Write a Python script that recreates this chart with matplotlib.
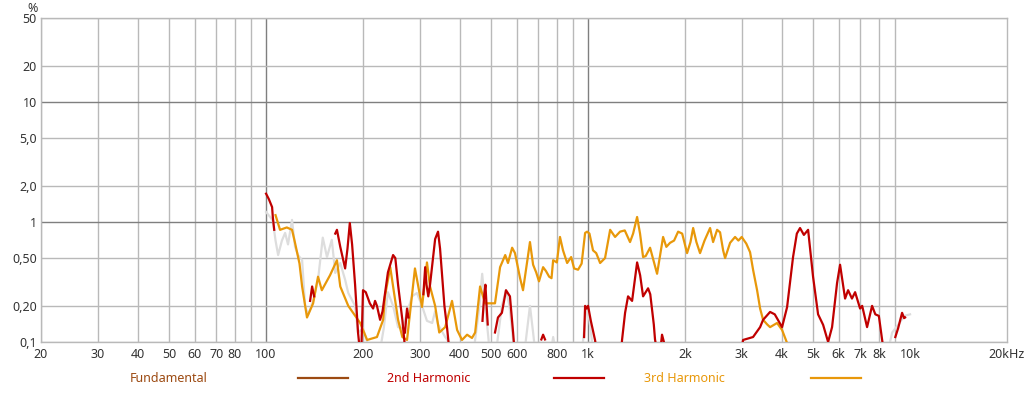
import numpy as np
import matplotlib.pyplot as plt
from matplotlib.lines import Line2D

nan = np.nan

# 3rd harmonic (%)
h3_f = [107, 110.5, 116, 120.4, 123, 127, 129.4, 134, 140, 145, 149, 158, 166, 170, 180, 196, 206, 221,
        231, 234, 243, 257, 265, 274, 290, 297, 305, 316, 323, 335, 345, 360, 378, 392, 406, 421, 436,
        446, 462, 479, 496, 514, 533, 553, 564, 581, 593, 615, 628, 646, 660, 675, 690, 704, 725, 740,
        757, 770, 779, 800, 818, 836, 861, 886, 905, 931, 955, 979, 993, 1010, 1036, 1060, 1090, 1129,
        1171, 1213, 1257, 1300, 1350, 1380, 1420, 1450, 1482, 1510, 1558, 1638, 1710, 1750, 1797, 1850,
        1904, 1960, 2030, 2080, 2120, 2170, 2227, 2300, 2393, 2445, 2516, 2570, 2627, 2664, 2761, 2861,
        2930, 3000, 3100, 3185, 3254, 3349, 3422, 3496, 3600, 3675, 3864, 4004, 4150, 4300]
h3_v = [1.14, 0.86, 0.9, 0.86, 0.67, 0.45, 0.29, 0.16, 0.21, 0.35, 0.27, 0.36, 0.48, 0.29, 0.2, 0.144,
        0.104, 0.11, 0.153, 0.24, 0.42, 0.153, 0.11, 0.104, 0.41, 0.29, 0.196, 0.46, 0.29, 0.2, 0.12,
        0.133, 0.22, 0.126, 0.104, 0.115, 0.108, 0.12, 0.29, 0.21, 0.21, 0.21, 0.42, 0.53, 0.455, 0.61,
        0.55, 0.34, 0.27, 0.455, 0.68, 0.44, 0.38, 0.32, 0.42, 0.39, 0.35, 0.34, 0.48, 0.46, 0.75, 0.58,
        0.455, 0.51, 0.41, 0.40, 0.45, 0.81, 0.83, 0.8, 0.58, 0.55, 0.455, 0.50, 0.86, 0.75, 0.83, 0.85,
        0.68, 0.8, 1.1, 0.8, 0.51, 0.52, 0.61, 0.37, 0.75, 0.62, 0.67, 0.7, 0.83, 0.8, 0.55, 0.68, 0.89,
        0.68, 0.55, 0.7, 0.89, 0.68, 0.86, 0.82, 0.58, 0.5, 0.67, 0.75, 0.7, 0.75, 0.66, 0.56, 0.40, 0.27,
        0.19, 0.153, 0.14, 0.133, 0.144, 0.126, 0.098, 0.07]

# 2nd harmonic (%), nan = gap
h2_f = [100, 102, 104.4, 105, 106, nan,
        137, 139, 141, nan,
        164, 166, 170, 176, 179, 182, 185, 189, 193, 196, nan,
        198, 200, 204, 210, 215, 218, 221, 226, 230, 239, 248, 252, 257, 265, 269, nan,
        270, 274, 277, nan,
        308, 312, 315, 319, 323, 335, 342, 347, 352, 358, 365, 370, nan,
        470, 476, 480, 484, 488, nan,
        514, 525, 540, 556, 572, 585, 590, nan,
        716, 725, 735, nan,
        972, 979, 990, 1000, 1020, 1051, 1060, nan,
        1270, 1275, 1303, 1331, 1370, 1420, 1451, 1482, 1536, 1560, 1600, 1614, 1630, nan,
        1680, 1697, 1720, 1740, nan,
        3000, 3030, 3254, 3422, 3496, 3675, 3800, 4004, 4150, 4331, 4450, 4553, 4680, 4823, 4997, 5180,
        5370, 5565, 5725, 5933, 6062, 6283, 6420, 6600, 6750, 6995, 7100, 7353, 7621, 7800, 8000, 8185,
        8250, nan,
        9000, 9180, 9445, 9580, 9650]
h2_v = [1.72, 1.55, 1.33, 1.08, 0.86, nan,
        0.22, 0.29, 0.24, nan,
        0.8, 0.86, 0.62, 0.41, 0.6, 0.98, 0.65, 0.3, 0.12, 0.08, nan,
        0.1, 0.27, 0.26, 0.21, 0.19, 0.22, 0.2, 0.153, 0.18, 0.38, 0.53, 0.5, 0.3, 0.153, 0.1, nan,
        0.12, 0.19, 0.16, nan,
        0.25, 0.42, 0.3, 0.24, 0.3, 0.72, 0.83, 0.6, 0.36, 0.2, 0.13, 0.09, nan,
        0.15, 0.25, 0.3, 0.2, 0.14, nan,
        0.12, 0.16, 0.175, 0.27, 0.24, 0.12, 0.09, nan,
        0.105, 0.115, 0.105, nan,
        0.11, 0.2, 0.19, 0.2, 0.15, 0.104, 0.09, nan,
        0.09, 0.104, 0.175, 0.24, 0.22, 0.46, 0.36, 0.24, 0.28, 0.25, 0.14, 0.105, 0.09, nan,
        0.09, 0.115, 0.1, 0.09, nan,
        0.09, 0.104, 0.11, 0.133, 0.153, 0.178, 0.17, 0.133, 0.195, 0.51, 0.8, 0.89, 0.78, 0.86, 0.35,
        0.17, 0.139, 0.1, 0.133, 0.31, 0.44, 0.23, 0.27, 0.23, 0.26, 0.19, 0.2, 0.133, 0.2, 0.17, 0.165,
        0.104, 0.09, nan,
        0.11, 0.13, 0.175, 0.158, 0.16]

# grey trace (%)
gr_f = [100, 103, 105, 107, 109, 112, 114.6, 117, 120.4, 123, 125.7, 129.4, 132.2, 135, 140, 145, 150,
        154.6, 160, 164, 170, 176, 180, 189, 193, 200, 206, 215, 225, 232, 239, 248, 257, 265, 284, 294,
        305, 316, 328, 335, 342, 360, 380, 420, 445, 460, 469, 479, 490, 500, 520, 540, 556, 570, 585,
        600, 640, 660, 675, 690, 760, 779, 790, 960, 990, 1010, 1040, 8500, 8800, 9200, 9600, 10000]
gr_v = [1.21, 1.1, 1.02, 0.7, 0.53, 0.7, 0.81, 0.65, 1.04, 0.62, 0.53, 0.48, 0.2, 0.168, 0.22, 0.33,
        0.74, 0.51, 0.71, 0.376, 0.455, 0.33, 0.256, 0.2, 0.12, 0.13, 0.1, 0.07, 0.08, 0.13, 0.26, 0.2,
        0.133, 0.13, 0.24, 0.256, 0.2, 0.15, 0.144, 0.18, 0.14, 0.11, 0.09, 0.06, 0.1, 0.2, 0.37, 0.2,
        0.11, 0.06, 0.09, 0.2, 0.27, 0.2, 0.104, 0.07, 0.1, 0.2, 0.12, 0.07, 0.07, 0.11, 0.09, 0.09, 0.2,
        0.15, 0.08, 0.08, 0.12, 0.14, 0.165, 0.17]

x_ticks = [20, 30, 40, 50, 60, 70, 80, 100, 200, 300, 400, 500, 600, 800, 1000, 2000, 3000, 4000, 5000,
           6000, 7000, 8000, 10000, 20000]
x_labels = ["20", "30", "40", "50", "60", "70", "80", "100", "200", "300", "400", "500", "600", "800",
            "1k", "2k", "3k", "4k", "5k", "6k", "7k", "8k", "10k", "20kHz"]
y_ticks = [0.1, 0.2, 0.5, 1, 2, 5, 10, 20, 50]
y_labels = ["0,1", "0,20", "0,50", "1", "2,0", "5,0", "10", "20", "50"]
legend_names = ["Fundamental", "2nd Harmonic", "3rd Harmonic"]
legend_colors = ["#9c4a12", "#c00000", "#e8980a"]

plt.rcParams['font.family'] = ['Noto Sans', 'DejaVu Sans']
fig = plt.figure(figsize=(10.27, 3.93), dpi=100)
ax = fig.add_axes([41 / 1027, 51 / 393, 966 / 1027, 324 / 393])
ax.set_xscale('log')
ax.set_yscale('log')
ax.set_xlim(20, 20000)
ax.set_ylim(0.1, 50)

light = '#b9b9b9'
dark = '#7f7f7f'
grid_f = [m * 10 ** k for k in (1, 2, 3) for m in range(1, 10)]
for f in grid_f:
    if 20 <= f < 20000:
        c = dark if f in (100, 1000, 10000) else light
        ax.axvline(f, color=c, lw=1, zorder=1)
for v in y_ticks:
    c = dark if v in (1, 10) else light
    ax.axhline(v, color=c, lw=1, zorder=1)
for s in ax.spines.values():
    s.set_color(light)
    s.set_linewidth(1)

ax.plot(gr_f, gr_v, color='#dddddd', lw=1.6, zorder=2)
ax.plot(h3_f, h3_v, color=legend_colors[2], lw=1.6, zorder=3)
ax.plot(h2_f, h2_v, color=legend_colors[1], lw=1.6, zorder=4)

ax.minorticks_off()
ax.set_xticks(x_ticks)
ax.set_xticklabels(x_labels)
ax.set_yticks(y_ticks)
ax.set_yticklabels(y_labels)
ax.tick_params(length=0, labelsize=9, colors='#333333', pad=4)
ax.tick_params(axis='y', pad=3)
fig.text(33 / 1027, 1 - 8 / 393, "%", fontsize=9, color='#333333', ha='center', va='center')

# legend row
text_x = [130, 387, 644]
line_x = [298, 554, 811]
ly = 1 - 378 / 393
for name, c, tx, lx in zip(legend_names, legend_colors, text_x, line_x):
    fig.text(tx / 1027, ly, name, color=c, fontsize=9, va='center', ha='left')
    fig.add_artist(Line2D([lx / 1027, (lx + 50) / 1027], [ly, ly], color=c, lw=1.6,
                          transform=fig.transFigure))

fig.savefig("out.png", dpi=100)
